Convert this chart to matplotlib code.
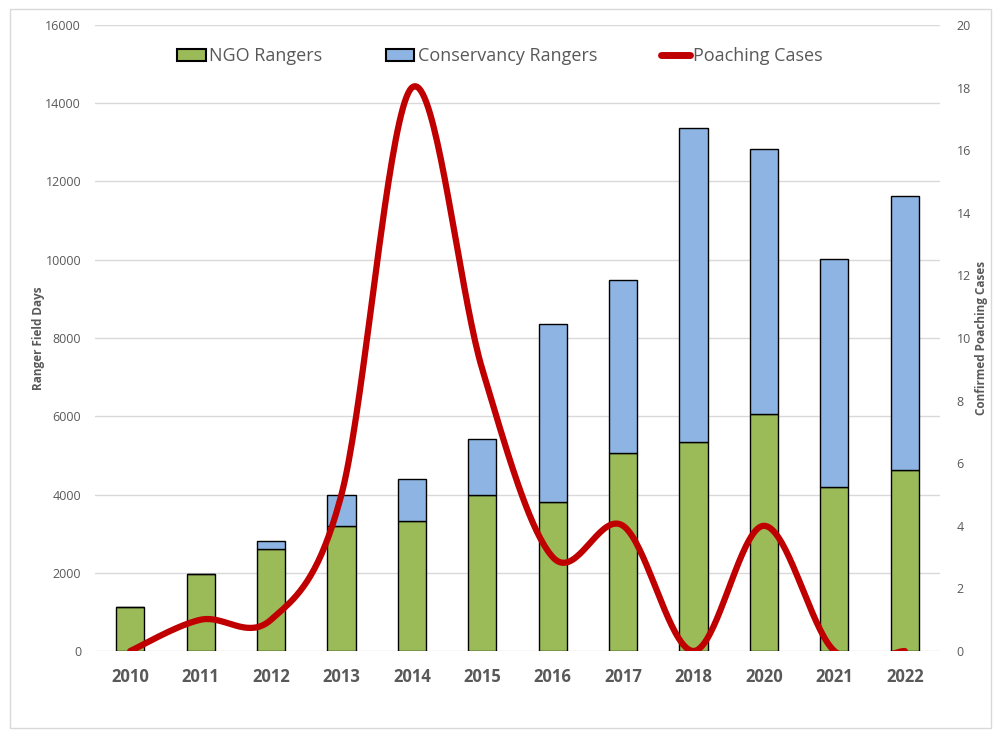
import numpy as np
import matplotlib.pyplot as plt
from matplotlib.patches import Patch, Rectangle
from matplotlib.lines import Line2D

years = ['2010', '2011', '2012', '2013', '2014', '2015', '2016', '2017', '2018', '2020', '2021', '2022']
ngo_rangers = [1130, 1970, 2600, 3200, 3330, 4000, 3800, 5070, 5330, 6070, 4200, 4620]
conservancy_rangers = [0, 0, 210, 800, 1070, 1430, 4570, 4410, 8040, 6760, 5810, 7000]
poaching_cases = [0, 1, 1, 5, 18, 9, 3, 4, 0, 4, 0, 0]

green = '#9BBB59'
blue = '#8DB4E2'
red = '#C00000'
grey_text = '#595959'


def smooth_line(x, y, n=40):
    # Excel-style smoothed line: cubic Bezier through each point pair
    x = np.asarray(x, float)
    y = np.asarray(y, float)
    px = np.concatenate([[x[0]], x, [x[-1]]])
    py = np.concatenate([[y[0]], y, [y[-1]]])
    t = np.linspace(0, 1, n)
    xs, ys = [], []
    for i in range(1, len(px) - 2):
        p0 = np.array([px[i], py[i]])
        p3 = np.array([px[i + 1], py[i + 1]])
        c1 = p0 + (np.array([px[i + 1], py[i + 1]]) - np.array([px[i - 1], py[i - 1]])) / 6
        c2 = p3 - (np.array([px[i + 2], py[i + 2]]) - np.array([px[i], py[i]])) / 6
        b = ((1 - t) ** 3)[:, None] * p0 + (3 * (1 - t) ** 2 * t)[:, None] * c1 \
            + (3 * (1 - t) * t ** 2)[:, None] * c2 + (t ** 3)[:, None] * p3
        xs.append(b[:, 0])
        ys.append(b[:, 1])
    return np.concatenate(xs), np.concatenate(ys)


plt.rcParams['font.family'] = ['Open Sans', 'DejaVu Sans']

fig = plt.figure(figsize=(9.95, 7.3), dpi=100)
fig.patches.append(Rectangle((0.01, 0.003), 0.986, 0.984, transform=fig.transFigure,
                             fill=False, edgecolor='#d9d9d9', linewidth=1))
ax = fig.add_axes([0.0955, 0.1082, 0.8492, 0.8576])

x = np.arange(len(years))
width = 0.4
ax.bar(x, ngo_rangers, width, color=green, edgecolor='black', linewidth=1, zorder=2)
ax.bar(x, conservancy_rangers, width, bottom=ngo_rangers, color=blue,
       edgecolor='black', linewidth=1, zorder=2)

ax.set_xlim(-0.5, len(years) - 0.5)
ax.set_ylim(0, 16000)
ax.set_yticks(np.arange(0, 16001, 2000))
ax.grid(axis='y', color='#d9d9d9', linewidth=1, zorder=0)
ax.set_axisbelow(True)
for s in ax.spines.values():
    s.set_visible(False)
ax.tick_params(axis='both', length=0)
ax.tick_params(axis='y', labelsize=9, labelcolor=grey_text, pad=10)
ax.set_xticks(x)
ax.set_xticklabels(years, fontsize=12, fontweight='bold', color=grey_text)
ax.tick_params(axis='x', pad=12)
ax.set_ylabel('Ranger Field Days', fontsize=8.5, fontweight='bold', color=grey_text, labelpad=0)

ax2 = ax.twinx()
sx, sy = smooth_line(x, poaching_cases)
ax2.plot(sx, sy, color=red, linewidth=4.5, solid_capstyle='round', zorder=3)
ax2.set_ylim(0, 20)
ax2.set_yticks(np.arange(0, 21, 2))
for s in ax2.spines.values():
    s.set_visible(False)
ax2.tick_params(axis='y', length=0, labelsize=9, labelcolor=grey_text, pad=12)
ax2.set_ylabel('Confirmed Poaching Cases', fontsize=8.5, fontweight='bold', color=grey_text,
               labelpad=3)

handles = [Patch(facecolor=green, edgecolor='black', linewidth=1.5),
           Patch(facecolor=blue, edgecolor='black', linewidth=1.5),
           Line2D([0], [0], color=red, linewidth=5, solid_capstyle='round')]
labels = ['NGO Rangers', 'Conservancy Rangers', 'Poaching Cases']
leg = ax.legend(handles, labels, loc='upper center', bbox_to_anchor=(0.479, 0.99), ncol=3,
                frameon=False, fontsize=13, handlelength=1.6, handletextpad=0.2,
                columnspacing=3.5, labelcolor=grey_text)

fig.savefig('out.png', dpi=100)
